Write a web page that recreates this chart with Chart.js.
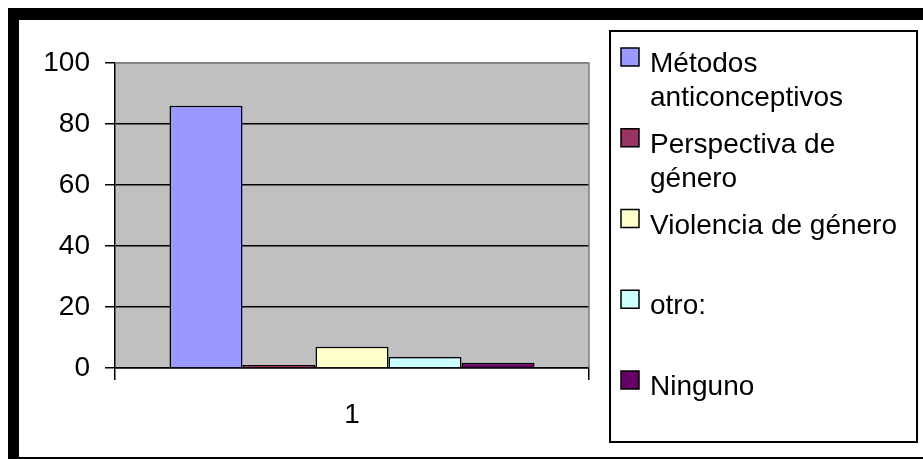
<!DOCTYPE html>
<html lang="es">
<head>
  <meta charset="UTF-8">
  <title>Temas</title>
  <script src="https://cdn.jsdelivr.net/npm/chart.js"></script>
  <style>
    body { margin: 0; background: #fff; }
    #wrap { position: relative; width: 923px; height: 459px; }
  </style>
</head>
<body>
  <div id="wrap"><canvas id="chart"></canvas></div>

  <script>
    // data
    const categories = ['1'];
    const seriesNames = ['Métodos anticonceptivos', 'Perspectiva de género', 'Violencia de género', 'otro:', 'Ninguno'];
    const seriesValues = [86, 1, 7, 3.6, 1.7];
    const seriesColors = ['#9999FF', '#993366', '#FFFFCC', '#CCFFFF', '#660066'];
    const yMin = 0, yMax = 100, yStep = 20;

    const FONT = '"Liberation Sans", Arial, sans-serif';

    // black frame + grey plot background
    const backdrop = {
      id: 'backdrop',
      beforeDraw(chart) {
        const ctx = chart.ctx;
        const a = chart.chartArea;
        ctx.save();
        ctx.fillStyle = '#000';
        ctx.fillRect(8, 8, chart.width - 8, 12);
        ctx.fillRect(8, 8, 11, chart.height - 8);
        ctx.fillRect(8, chart.height - 2, chart.width - 8, 2);
        ctx.fillStyle = '#C0C0C0';
        ctx.fillRect(a.left, a.top, a.right - a.left, a.bottom - a.top);
        ctx.restore();
      },
      afterDatasetsDraw(chart) {
        const ctx = chart.ctx;
        const a = chart.chartArea;
        ctx.save();
        ctx.strokeStyle = '#808080';
        ctx.lineWidth = 1.5;
        ctx.beginPath();
        ctx.moveTo(a.left, a.top);
        ctx.lineTo(a.right, a.top);
        ctx.lineTo(a.right, a.bottom);
        ctx.stroke();
        ctx.restore();
      }
    };

    // boxed legend on the right, with wrapped labels
    const boxLegend = {
      id: 'boxLegend',
      afterDraw(chart) {
        const ctx = chart.ctx;
        const box = { left: 610, top: 31, right: 917, bottom: 442 };
        ctx.save();
        ctx.fillStyle = '#fff';
        ctx.fillRect(box.left, box.top, box.right - box.left, box.bottom - box.top);
        ctx.strokeStyle = '#000';
        ctx.lineWidth = 2;
        ctx.strokeRect(box.left, box.top, box.right - box.left, box.bottom - box.top);

        ctx.font = '28px ' + FONT;
        ctx.textBaseline = 'alphabetic';
        ctx.textAlign = 'left';
        const textX = 650;
        const maxW = box.right - textX - 4;
        const lineH = 34;
        const firstBase = 72, lastBase = 395;
        const sets = chart.data.datasets;
        const step = (lastBase - firstBase) / (sets.length - 1);

        sets.forEach((ds, i) => {
          const base = firstBase + i * step;
          // wrap words
          const words = ds.label.split(' ');
          const lines = [];
          let cur = '';
          words.forEach(w => {
            const t = cur ? cur + ' ' + w : w;
            if (cur && ctx.measureText(t).width > maxW) {
              lines.push(cur);
              cur = w;
            } else {
              cur = t;
            }
          });
          lines.push(cur);

          ctx.fillStyle = ds.backgroundColor;
          ctx.fillRect(621, base - 24, 18, 18);
          ctx.strokeStyle = '#000';
          ctx.lineWidth = 1.5;
          ctx.strokeRect(621, base - 24, 18, 18);

          ctx.fillStyle = '#000';
          lines.forEach((ln, k) => ctx.fillText(ln, textX, base + k * lineH));
        });
        ctx.restore();
      }
    };

    const datasets = seriesNames.map((name, i) => ({
      label: name,
      data: [seriesValues[i]],
      backgroundColor: seriesColors[i],
      borderColor: '#000',
      borderWidth: 1.5,
      barPercentage: 1,
      categoryPercentage: 0.77
    }));

    new Chart(document.getElementById('chart'), {
      type: 'bar',
      data: { labels: categories, datasets: datasets },
      options: {
        responsive: true,
        maintainAspectRatio: false,
        animation: false,
        layout: { padding: { top: 63, right: 334, left: 0, bottom: 0 } },
        plugins: {
          legend: { display: false },
          tooltip: { enabled: false }
        },
        scales: {
          x: {
            grid: {
              offset: true,
              drawOnChartArea: false,
              color: '#000',
              lineWidth: 1.5,
              tickLength: 12
            },
            border: { color: '#000', width: 1.5 },
            ticks: {
              color: '#000',
              padding: 18,
              font: { family: FONT, size: 28 }
            },
            afterFit(scale) { scale.height = 91; }
          },
          y: {
            min: yMin,
            max: yMax,
            grid: {
              color: c => (c.tick && c.tick.value === yMax ? '#808080' : '#000'),
              tickColor: '#000',
              lineWidth: 1.5,
              tickLength: 10
            },
            border: { color: '#000', width: 1.5 },
            ticks: {
              stepSize: yStep,
              color: '#000',
              padding: 15,
              font: { family: FONT, size: 28 }
            },
            afterFit(scale) { scale.width = 115; }
          }
        }
      },
      plugins: [backdrop, boxLegend]
    });
  </script>
</body>
</html>
